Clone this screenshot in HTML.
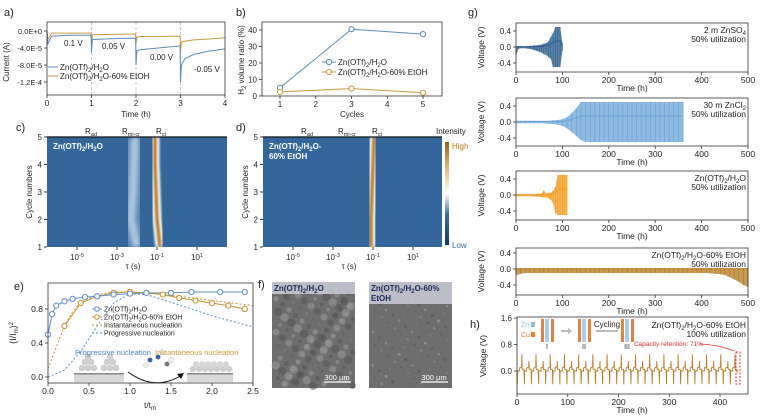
<!DOCTYPE html>
<html><head><meta charset="utf-8"><style>
html,body{margin:0;padding:0;background:#fff}
svg{display:block;font-family:"Liberation Sans",Arial,sans-serif}
</style></head><body>
<svg id="fig" width="766" height="416" viewBox="0 0 766 416" xmlns="http://www.w3.org/2000/svg">
<defs>
<filter id="blur2" x="-50%" y="-10%" width="200%" height="120%"><feGaussianBlur stdDeviation="2.2"/></filter>
<filter id="blur1" x="-50%" y="-10%" width="200%" height="120%"><feGaussianBlur stdDeviation="1"/></filter>
<filter id="blur4" x="-50%" y="-10%" width="200%" height="120%"><feGaussianBlur stdDeviation="4"/></filter>
<linearGradient id="cbar" x1="0" y1="1" x2="0" y2="0"><stop offset="0" stop-color="#123a66"/><stop offset="0.3" stop-color="#3b6fa0"/><stop offset="0.5" stop-color="#ffffff"/><stop offset="0.75" stop-color="#e2b77a"/><stop offset="1" stop-color="#9a5d12"/></linearGradient>
</defs>
<g id="root"></g>
</svg>
<script>
// ---------- data ----------
const aTimes = [0,0.02,0.1,0.5,0.99,1.0,1.02,1.5,1.99,2.0,2.02,2.1,2.5,2.99,3.0,3.02,3.1,3.3,3.6,4.0];
const aBlue = [0,-3,-1.2,-1,-1,-5,-2,-1.8,-1.7,-8,-4.6,-4.4,-4,-3.5,-12,-8,-6.5,-5.5,-4.8,-4.2];
const aOrange = [0,-2,-0.5,-0.5,-0.5,-3,-0.9,-0.8,-0.7,-3,-1.4,-1.3,-1.3,-1.2,-5,-2.6,-2.4,-2.1,-1.9,-1.6];
const aYTicks = ["0.0E+0","-4.0E-5","-8.0E-5","-1.2E-4"];
const aYTickVals = [0,-4,-8,-12];
const bCycles = [1,3,5];
const bBlue = [5,40.5,37.5];
const bOrange = [2.5,4.5,2];
const eBlueT = [0,0.05,0.1,0.2,0.3,0.45,0.6,0.8,1.0,1.2,1.5,1.75,2.1,2.4];
const eBlueV = [0.5,0.74,0.84,0.89,0.92,0.94,0.95,0.97,0.98,0.99,0.99,1.0,1.0,1.0];
const eOrT = [0.2,0.4,0.6,0.8,1.0,1.2,1.4,1.6,1.8,2.0,2.2,2.4];
const eOrV = [0.6,0.87,0.95,0.99,1.0,0.99,0.97,0.93,0.9,0.87,0.84,0.8];
const eInstT = [0,0.1,0.2,0.3,0.4,0.6,0.8,1.0,1.2,1.5,2.0,2.5];
const eInstV = [0.1,0.35,0.6,0.77,0.88,0.97,1.0,1.0,0.99,0.96,0.9,0.84];
const eProgT = [0,0.2,0.4,0.6,0.8,1.0,1.2,1.5,2.0,2.5];
const eProgV = [0,0.08,0.3,0.6,0.87,0.98,0.97,0.88,0.72,0.59];
const cCycles = [1,2,3,4,5];
const cRct = [-0.85,-1.0,-1.05,-1.1,-1.1];
const cRmi = [-2.0,-2.3,-2.2,-2.15,-2.1];
const cRad = [-4.3,-4.3,-4.3,-4.3,-4.3];
const dRct = [-1.1,-1.1,-1.05,-1.0,-0.95];
const dRmi = [-2.2,-2.2,-2.2,-2.2,-2.2];
const dRad = [-4.3,-4.3,-4.3,-4.3,-4.3];
const g1T = [0,5,10,15,20,25,30,35,40,45,50,55,60,65,70,75,80,85,90,95,100];
const g1Up = [0.02,0.02,0.02,0.02,0.02,0.02,0.03,0.03,0.04,0.04,0.05,0.06,0.08,0.1,0.14,0.25,0.35,0.5,0.5,0.5,0.1];
const g1Lo = [-0.22,-0.05,-0.03,-0.03,-0.03,-0.04,-0.05,-0.06,-0.08,-0.1,-0.12,-0.14,-0.18,-0.2,-0.25,-0.3,-0.5,-0.5,-0.5,-0.5,-0.1];
const g2T = [0,10,20,30,40,50,60,70,80,90,100,110,120,130,140,150,160,170,180,190,200,210,220,230,240,250,260,270,280,290,300,310,320,330,340,350,360];
const g2Up = [0.03,0.03,0.03,0.03,0.03,0.03,0.03,0.03,0.04,0.05,0.07,0.12,0.22,0.35,0.5,0.5,0.5,0.5,0.5,0.5,0.5,0.5,0.5,0.5,0.5,0.5,0.5,0.5,0.5,0.5,0.5,0.5,0.5,0.5,0.5,0.5,0.5];
const g2Lo = [-0.03,-0.03,-0.03,-0.03,-0.03,-0.03,-0.03,-0.04,-0.05,-0.07,-0.1,-0.16,-0.25,-0.35,-0.45,-0.5,-0.5,-0.5,-0.5,-0.5,-0.5,-0.5,-0.5,-0.5,-0.5,-0.5,-0.5,-0.5,-0.5,-0.5,-0.5,-0.5,-0.5,-0.5,-0.5,-0.5,-0.5];
const g3T = [0,5,10,15,20,25,30,35,40,45,50,55,60,65,70,75,80,85,90,95,100,105,110];
const g3Up = [0.02,0.02,0.02,0.02,0.02,0.02,0.02,0.02,0.02,0.03,0.03,0.03,0.12,0.03,0.04,0.06,0.1,0.2,0.5,0.5,0.5,0.5,0.5];
const g3Lo = [-0.03,-0.03,-0.03,-0.03,-0.03,-0.03,-0.03,-0.03,-0.04,-0.04,-0.05,-0.05,-0.06,-0.06,-0.08,-0.12,-0.2,-0.45,-0.5,-0.5,-0.5,-0.5,-0.5];
const g4T = [];
const g4Up = [0.02,0.02,0.02,0.02,0.02,0.02,0.02,0.02,0.02,0.02,0.02,0.02,0.02,0.02,0.02,0.02,0.02,0.02,0.02,0.02,0.02,0.02,0.02,0.02,0.02,0.02,0.02,0.02,0.02,0.02,0.02,0.02,0.02,0.02,0.02,0.02,0.02,0.02,0.02,0.02,0.02,0.02,0.02,0.02,0.02,0.02,0.02,0.02,0.02,0.02,0.02];
const g4Lo = [-0.16,-0.12,-0.1,-0.1,-0.1,-0.1,-0.1,-0.1,-0.1,-0.1,-0.1,-0.1,-0.1,-0.1,-0.1,-0.1,-0.1,-0.1,-0.1,-0.1,-0.1,-0.1,-0.1,-0.1,-0.1,-0.1,-0.1,-0.1,-0.1,-0.1,-0.1,-0.1,-0.1,-0.1,-0.1,-0.1,-0.1,-0.1,-0.1,-0.1,-0.1,-0.1,-0.11,-0.12,-0.13,-0.15,-0.2,-0.26,-0.32,-0.4,-0.45];
for (let i = 0; i < g4Up.length; i++) g4T.push(i * 10);
const hStarts = [0,14,28,42,56,70,84,98,112,126,140,154,168,182,196,210,224,238,252,266,280,294,308,322,336,350,364,378,392,406,420];
const hPeaks = [0.5,0.3,0.5,0.3,0.5,0.3,0.5,0.3,0.5,0.3,0.5,0.3,0.5,0.3,0.5,0.3,0.5,0.3,0.5,0.3,0.5,0.3,0.5,0.3,0.5,0.3,0.5,0.3,0.5,0.3,0.5];
const timeTicks = [0,100,200,300,400,500];
const timeTickLabels = ['0','100','200','300','400','500'];

// ---------- helpers ----------
const NS = "http://www.w3.org/2000/svg";
const root = document.getElementById('root');
function mk(tag, attrs, name, parent) {
  const el = document.createElementNS(NS, tag);
  for (const k in attrs) el.setAttribute(k, attrs[k]);
  
  
  (parent || root).appendChild(el);
  return el;
}
function txt(x, y, s, name, o) {
  o = o || {};
  const el = mk('text', {x: x, y: y, 'font-size': o.fs || 8, fill: o.fill || '#222', 'text-anchor': o.anchor || 'start', 'font-weight': o.fw || 'normal'}, name, o.parent);
  if (o.rot) el.setAttribute('transform', 'rotate(-90 ' + x + ' ' + y + ')');
  el.innerHTML = s;
  return el;
}
function box(x0, y0, x1, y1, name) {
  mk('rect', {x: x0, y: y0, width: x1 - x0, height: y1 - y0, fill: 'none', stroke: '#333', 'stroke-width': 0.8}, name);
}
function path(pts, name, o) {
  const d = pts.map((p, i) => (i ? 'L' : 'M') + p[0].toFixed(1) + ',' + p[1].toFixed(1)).join('');
  return mk('path', {d: d, fill: 'none', stroke: o.stroke, 'stroke-width': o.sw || 1, 'stroke-dasharray': o.dash || 'none'}, name);
}
function xticks(vals, labels, sx, yb, name, fs) {
  vals.forEach((v, i) => {
    mk('line', {x1: sx(v), x2: sx(v), y1: yb, y2: yb + 3, stroke: '#333', 'stroke-width': 0.8}, name + '-tick');
    txt(sx(v), yb + 11, labels[i], name + '-label', {anchor: 'middle', fs: fs || 8});
  });
}
function yticks(vals, labels, sy, xl, name, fs) {
  vals.forEach((v, i) => {
    mk('line', {x1: xl - 3, x2: xl, y1: sy(v), y2: sy(v), stroke: '#333', 'stroke-width': 0.8}, name + '-tick');
    txt(xl - 5, sy(v) + 3, labels[i], name + '-label', {anchor: 'end', fs: fs || 8});
  });
}
const BLUE = '#5b8cb8', ORNG = '#c89a40';

// ---------- panel a ----------
txt(4, 16, 'a)', 'panel-a-label', {fs: 11});
const ax = t => 47 + t * 44.5, ay = v => 31 - v * 4.25;
[1, 2, 3].forEach(t => mk('line', {x1: ax(t), x2: ax(t), y1: 22, y2: 95, stroke: '#aaa', 'stroke-dasharray': '3,2', 'stroke-width': 0.7}, 'a-step-divider'));
path(aTimes.map((t, i) => [ax(t), ay(aOrange[i])]), 'a-line-etoh', {stroke: ORNG, sw: 1});
path(aTimes.map((t, i) => [ax(t), ay(aBlue[i])]), 'a-line-h2o', {stroke: BLUE, sw: 1});
box(47, 22, 225, 95, 'a-plot-frame');
xticks([0, 1, 2, 3, 4], ['0', '1', '2', '3', '4'], ax, 95, 'a-x');
yticks(aYTickVals, aYTicks, ay, 47, 'a-y', 7.5);
txt(136, 117, 'Time (h)', 'a-x-title', {anchor: 'middle', fs: 8});
txt(9, 62, 'Current (A)', 'a-y-title', {anchor: 'middle', rot: true, fs: 8});
txt(64, 46, '0.1 V', 'a-step-label', {fs: 8});
txt(102, 49, '0.05 V', 'a-step-label', {fs: 8});
txt(150, 60, '0.00 V', 'a-step-label', {fs: 8});
txt(194, 72, '-0.05 V', 'a-step-label', {fs: 8});
mk('line', {x1: 48, x2: 58, y1: 67, y2: 67, stroke: BLUE}, 'a-legend-swatch-h2o');
txt(60, 70, 'Zn(OTf)<tspan font-size="6" dy="2">2</tspan><tspan dy="-2">/H</tspan><tspan font-size="6" dy="2">2</tspan><tspan dy="-2">O</tspan>', 'a-legend-h2o', {fs: 8});
mk('line', {x1: 48, x2: 58, y1: 76, y2: 76, stroke: ORNG}, 'a-legend-swatch-etoh');
txt(60, 79, 'Zn(OTf)<tspan font-size="6" dy="2">2</tspan><tspan dy="-2">/H</tspan><tspan font-size="6" dy="2">2</tspan><tspan dy="-2">O-60% EtOH</tspan>', 'a-legend-etoh', {fs: 8});

// ---------- panel b ----------
txt(236, 16, 'b)', 'panel-b-label', {fs: 11});
const bx = c => 280 + (c - 1) * 35.75, by = v => 96 - v * 1.65;
path(bCycles.map((c, i) => [bx(c), by(bBlue[i])]), 'b-line-h2o', {stroke: BLUE});
path(bCycles.map((c, i) => [bx(c), by(bOrange[i])]), 'b-line-etoh', {stroke: ORNG});
bCycles.forEach((c, i) => {
  mk('circle', {cx: bx(c), cy: by(bBlue[i]), r: 2.6, fill: '#fff', stroke: BLUE}, 'b-point-h2o');
  mk('circle', {cx: bx(c), cy: by(bOrange[i]), r: 2.6, fill: '#fff', stroke: ORNG}, 'b-point-etoh');
});
box(262, 22, 442, 96, 'b-plot-frame');
xticks([1, 2, 3, 4, 5], ['1', '2', '3', '4', '5'], bx, 96, 'b-x');
yticks([0, 10, 20, 30, 40], ['0', '10', '20', '30', '40'], by, 262, 'b-y');
txt(352, 117, 'Cycles', 'b-x-title', {anchor: 'middle'});
txt(244, 60, 'H<tspan font-size="6" dy="2">2</tspan><tspan dy="-2"> volume ratio (%)</tspan>', 'b-y-title', {anchor: 'middle', rot: true});
mk('line', {x1: 322, x2: 336, y1: 62, y2: 62, stroke: BLUE}, 'b-legend-swatch-h2o');
mk('circle', {cx: 329, cy: 62, r: 2.6, fill: '#fff', stroke: BLUE}, 'b-legend-marker-h2o');
txt(338, 65, 'Zn(OTf)<tspan font-size="6" dy="2">2</tspan><tspan dy="-2">/H</tspan><tspan font-size="6" dy="2">2</tspan><tspan dy="-2">O</tspan>', 'b-legend-h2o');
mk('line', {x1: 322, x2: 336, y1: 72, y2: 72, stroke: ORNG}, 'b-legend-swatch-etoh');
mk('circle', {cx: 329, cy: 72, r: 2.6, fill: '#fff', stroke: ORNG}, 'b-legend-marker-etoh');
txt(338, 75, 'Zn(OTf)<tspan font-size="6" dy="2">2</tspan><tspan dy="-2">/H</tspan><tspan font-size="6" dy="2">2</tspan><tspan dy="-2">O-60% EtOH</tspan>', 'b-legend-etoh');

// ---------- heatmaps c, d ----------
function heat(x0, x1, dec0, title, rct, rmi, rad, label, lx, prefix) {
  const y0 = 137, y1 = 247;
  const sx = l => x0 + (l - dec0) * 20, sy = c => y1 - (c - 1) * 27.5;
  const clip = mk('clipPath', {id: prefix + 'clip'}, prefix + '-clip');
  mk('rect', {x: x0, y: y0, width: x1 - x0, height: y1 - y0}, prefix + '-clip-rect', clip);
  mk('rect', {x: x0, y: y0, width: x1 - x0, height: y1 - y0, fill: '#33669a'}, prefix + '-heatmap-bg');
  const g = mk('g', {'clip-path': 'url(#' + prefix + 'clip)'}, prefix + '-heatmap');
  const line = (arr, col, w, f, op, nm) => {
    const d = cCycles.map((c, i) => (i ? 'L' : 'M') + sx(arr[i]).toFixed(1) + ',' + sy(c).toFixed(1)).join('');
    mk('path', {d: d, fill: 'none', stroke: col, 'stroke-width': w, filter: f, opacity: op}, nm, g);
  };
  line(rad, '#4f80ad', 30, 'url(#blur4)', 0.7, prefix + '-band-rad');
  line(rmi, '#6c97c0', 26, 'url(#blur4)', 0.8, prefix + '-band-rmi-cr-halo');
  line(rmi, '#b6cde3', 8, 'url(#blur2)', 0.9, prefix + '-band-rmi-cr');
  line(rct, '#ffffff', 9, 'url(#blur1)', 1, prefix + '-band-rct');
  line(rct, '#b8771f', 3.5, 'url(#blur1)', 1, prefix + '-band-rct-core');
  mk('line', {x1: x0, x2: x1, y1: y0, y2: y0, stroke: '#111', 'stroke-width': 1.2}, prefix + '-top-edge');
  [-5, -3, -1, 1].forEach(l => {
    mk('line', {x1: sx(l), x2: sx(l), y1: y1, y2: y1 + 3, stroke: '#333'}, prefix + '-x-tick');
    txt(sx(l), y1 + 13, '10<tspan font-size="5.5" dy="-3">' + l + '</tspan>', prefix + '-x-label', {anchor: 'middle'});
  });
  [1, 2, 3, 4, 5].forEach(c => {
    mk('line', {x1: x0 - 3, x2: x0, y1: sy(c), y2: sy(c), stroke: '#333'}, prefix + '-y-tick');
    txt(x0 - 5, sy(c) + 3, String(c), prefix + '-y-label', {anchor: 'end'});
  });
  txt(sx(-2.2), 269, 'τ (s)', prefix + '-x-title', {anchor: 'middle'});
  txt(x0 - 15, 192, 'Cycle numbers', prefix + '-y-title', {anchor: 'middle', rot: true});
  txt(sx(-4.3), 134, 'R<tspan font-size="5.5" dy="2">ad</tspan>', prefix + '-label-rad', {anchor: 'middle'});
  txt(sx(-2.3), 134, 'R<tspan font-size="5.5" dy="2">mi-cr</tspan>', prefix + '-label-rmi-cr', {anchor: 'middle'});
  txt(sx(-0.8), 134, 'R<tspan font-size="5.5" dy="2">ct</tspan>', prefix + '-label-rct', {anchor: 'middle'});
  title.forEach((t, i) => txt(x0 + 6, 149 + i * 10, t, prefix + '-title', {fill: '#fff', fw: 'bold', fs: 8}));
  txt(lx, 131, label, 'panel-' + prefix + '-label', {fs: 11});
}
heat(47, 227, -6.5, ['Zn(OTf)<tspan font-size="6" dy="2">2</tspan><tspan dy="-2">/H</tspan><tspan font-size="6" dy="2">2</tspan><tspan dy="-2">O</tspan>'], cRct, cRmi, cRad, 'c)', 16, 'c');
heat(263, 442, -6.5, ['Zn(OTf)<tspan font-size="6" dy="2">2</tspan><tspan dy="-2">/H</tspan><tspan font-size="6" dy="2">2</tspan><tspan dy="-2">O-</tspan>', '60% EtOH'], dRct, dRmi, dRad, 'd)', 236, 'd');
mk('rect', {x: 445, y: 142, width: 4, height: 103, fill: 'url(#cbar)'}, 'colorbar');
txt(436, 134, 'Intensity', 'colorbar-title');
txt(452, 149, 'High', 'colorbar-high', {fill: '#b87a20'});
txt(452, 248, 'Low', 'colorbar-low', {fill: '#3a6ea5'});

// ---------- panel e ----------
txt(14, 290, 'e)', 'panel-e-label', {fs: 11});
const ex = t => 48 + t * 82, ey = v => 377 - v * 85;
mk('rect', {x: 74, y: 374, width: 50, height: 8, fill: '#d8d8d8'}, 'e-illus-substrate-left');
mk('rect', {x: 74, y: 373, width: 50, height: 1.5, fill: '#888'}, 'e-illus-surface-left');
[[82,368],[88,368],[94,368],[85,362],[91,362],[88,357],[104,368],[110,368],[116,368],[107,362],[113,362],[110,357]].forEach(p => mk('circle', {cx: p[0], cy: p[1], r: 3.3, fill: '#cfcfcf'}, 'e-illus-nucleus'));
mk('rect', {x: 187, y: 374, width: 46, height: 8, fill: '#d8d8d8'}, 'e-illus-substrate-right');
mk('rect', {x: 187, y: 373, width: 46, height: 1.5, fill: '#888'}, 'e-illus-surface-right');
[193,199,205,211,217,223,229].forEach(x => mk('circle', {cx: x, cy: 369, r: 3.2, fill: '#cfcfcf'}, 'e-illus-nucleus'));
[196,202,208,214,220,226].forEach(x => mk('circle', {cx: x, cy: 364, r: 3, fill: '#d6d6d6'}, 'e-illus-nucleus'));
mk('path', {d: 'M128,372 Q155,392 182,375', fill: 'none', stroke: '#111', 'stroke-width': 1}, 'e-illus-arrow');
mk('path', {d: 'M184,373 L177,374 L181,379 Z', fill: '#111'}, 'e-illus-arrowhead');
[[150,360,'#3a5fa0'],[158,357,'#3a5fa0'],[167,364,'#777'],[146,365,'#eee'],[162,352,'#eee'],[171,360,'#eee']].forEach(p => mk('circle', {cx: p[0], cy: p[1], r: 2.4, fill: p[2], stroke: '#999', 'stroke-width': 0.3}, 'e-illus-molecule-atom'));
txt(75, 355, 'Progressive nucleation', 'e-illus-label-progressive', {fill: '#4a86c0', fs: 7.5});
txt(155, 355, 'Instantaneous nucleation', 'e-illus-label-instantaneous', {fill: '#d09a30', fs: 7.5});
path(eInstT.map((t, i) => [ex(t), ey(eInstV[i])]), 'e-line-instantaneous', {stroke: '#c8902a', dash: '2,2'});
path(eProgT.map((t, i) => [ex(t), ey(eProgV[i])]), 'e-line-progressive', {stroke: '#5b8fc6', dash: '2,2'});
path(eOrT.map((t, i) => [ex(t), ey(eOrV[i])]), 'e-line-etoh', {stroke: '#c8902a'});
path(eBlueT.map((t, i) => [ex(t), ey(eBlueV[i])]), 'e-line-h2o', {stroke: '#5b8fc6'});
eOrT.forEach((t, i) => mk('circle', {cx: ex(t), cy: ey(eOrV[i]), r: 2.6, fill: '#fff', stroke: '#c8902a'}, 'e-point-etoh'));
eBlueT.forEach((t, i) => mk('circle', {cx: ex(t), cy: ey(eBlueV[i]), r: 2.6, fill: '#fff', stroke: '#5b8fc6'}, 'e-point-h2o'));
box(48, 283, 253, 383, 'e-plot-frame');
xticks([0, 0.5, 1, 1.5, 2, 2.5], ['0.0', '0.5', '1.0', '1.5', '2.0', '2.5'], ex, 383, 'e-x', 8.5);
yticks([0, 0.4, 0.8], ['0.0', '0.4', '0.8'], ey, 48, 'e-y', 8.5);
txt(150, 408, 't/t<tspan font-size="6" dy="2">m</tspan>', 'e-x-title', {anchor: 'middle'});
txt(16, 333, '(I/I<tspan font-size="6" dy="2">m</tspan><tspan dy="-2">)</tspan><tspan font-size="6" dy="-3">2</tspan>', 'e-y-title', {anchor: 'middle', rot: true, fs: 9});
const leg = [['Zn(OTf)<tspan font-size="5.5" dy="2">2</tspan><tspan dy="-2">/H</tspan><tspan font-size="5.5" dy="2">2</tspan><tspan dy="-2">O</tspan>', '#5b8fc6', 1], ['Zn(OTf)<tspan font-size="5.5" dy="2">2</tspan><tspan dy="-2">/H</tspan><tspan font-size="5.5" dy="2">2</tspan><tspan dy="-2">O-60% EtOH</tspan>', '#c8902a', 1], ['Instantaneous nucleation', '#c8902a', 0], ['Progressive nucleation', '#5b8fc6', 0]];
leg.forEach((l, i) => {
  const y = 309 + i * 8;
  mk('line', {x1: 92, x2: 102, y1: y, y2: y, stroke: l[1], 'stroke-dasharray': l[2] ? 'none' : '2,2'}, 'e-legend-swatch');
  if (l[2]) mk('circle', {cx: 97, cy: y, r: 2.3, fill: '#fff', stroke: l[1]}, 'e-legend-marker');
  txt(104, y + 2.5, l[0], 'e-legend-entry', {fs: 7});
});

// ---------- panel f ----------
txt(258, 288, 'f)', 'panel-f-label', {fs: 11});
function sem(x, name, lines, rough) {
  mk('rect', {x: x, y: 282, width: 83, height: 106, fill: '#6e6e6e'}, name + '-image');
  for (let i = 0; i < 140; i++) {
    const cx = x + 2 + (i * 37.3) % 79, cy = 286 + (i * 53.7) % 100;
    mk('circle', {cx: cx, cy: cy, r: rough ? 1 + (i % 5) * 0.8 : 0.6 + (i % 3) * 0.4, fill: i % 2 ? '#9a9a9a' : '#555', opacity: 0.55}, name + '-texture');
  }
  mk('rect', {x: x, y: 282, width: 83, height: lines.length * 10 + 2, fill: '#c9ccd8', opacity: 0.85}, name + '-label-bg');
  lines.forEach((t, i) => txt(x + 2, 291 + i * 10, t, name + '-label', {fw: 'bold', fill: '#1a2a5a', fs: 8}));
  mk('line', {x1: x + 52, x2: x + 79, y1: 382, y2: 382, stroke: '#fff', 'stroke-width': 1.2}, name + '-scalebar');
  txt(x + 65, 380, '300 μm', name + '-scalebar-label', {fill: '#fff', anchor: 'middle', fs: 7.5});
}
sem(272, 'f-sem-h2o', ['Zn(OTf)<tspan font-size="6" dy="2">2</tspan><tspan dy="-2">/H</tspan><tspan font-size="6" dy="2">2</tspan><tspan dy="-2">O</tspan>'], true);
sem(369, 'f-sem-etoh', ['Zn(OTf)<tspan font-size="6" dy="2">2</tspan><tspan dy="-2">/H</tspan><tspan font-size="6" dy="2">2</tspan><tspan dy="-2">O-60%</tspan>', 'EtOH'], false);

// ---------- panel g ----------
txt(468, 16, 'g)', 'panel-g-label', {fs: 11});
const gx = t => 516 + t * 0.464;
function gpanel(y0, y1, z, T, U, L, col, lines, prefix, withTicks) {
  const sy = v => z - v * 40;
  const poly = T.map((t, i) => gx(t).toFixed(1) + ',' + sy(U[i]).toFixed(1)).concat(T.slice().reverse().map((t, j) => gx(t).toFixed(1) + ',' + sy(L[T.length - 1 - j]).toFixed(1)));
  mk('polygon', {points: poly.join(' '), fill: col, opacity: 0.75}, prefix + '-envelope');
  T.forEach((t, i) => mk('line', {x1: gx(t), x2: gx(t), y1: sy(U[i]), y2: sy(L[i]), stroke: col, 'stroke-width': 0.7}, prefix + '-cycle-bar'));
  path(T.map((t, i) => [gx(t), sy(U[i] * 0.3)]), prefix + '-trace', {stroke: col, sw: 1});
  box(516, y0, 748, y1, prefix + '-plot-frame');
  if (withTicks) {
    xticks(timeTicks, timeTickLabels, gx, y1, prefix + '-x', 8.5);
    txt(632, y1 + 19, 'Time (h)', prefix + '-x-title', {anchor: 'middle', fs: 8.5});
  }
  yticks([0.4, 0, -0.4], ['0.4', '0.0', '-0.4'], sy, 516, prefix + '-y', 8);
  txt(484, (y0 + y1) / 2, 'Voltage (V)', prefix + '-y-title', {anchor: 'middle', rot: true, fs: 8.5});
  lines.forEach((t, i) => txt(746, y0 + 10 + i * 9, t, prefix + '-annotation', {anchor: 'end', fs: 8.5}));
}
gpanel(23, 72, 47, g1T, g1Up, g1Lo, '#2a5d8f', ['2 m ZnSO<tspan font-size="6" dy="2">4</tspan>', '50% utilization'], 'g1', true);
gpanel(98, 146, 122, g2T, g2Up, g2Lo, '#6aa3d8', ['30 m ZnCl<tspan font-size="6" dy="2">2</tspan>', '50% utilization'], 'g2', true);
gpanel(171, 220, 195, g3T, g3Up, g3Lo, '#f29b1d', ['Zn(OTf)<tspan font-size="6" dy="2">2</tspan><tspan dy="-2">/H</tspan><tspan font-size="6" dy="2">2</tspan><tspan dy="-2">O</tspan>', '50% utilization'], 'g3', true);
gpanel(248, 295, 269, g4T, g4Up, g4Lo, '#b5781f', ['Zn(OTf)<tspan font-size="6" dy="2">2</tspan><tspan dy="-2">/H</tspan><tspan font-size="6" dy="2">2</tspan><tspan dy="-2">O-60% EtOH</tspan>', '50% utilization'], 'g4', false);

// ---------- panel h ----------
txt(470, 328, 'h)', 'panel-h-label', {fs: 11});
const hx = t => 517 + t * 0.5075, hy = v => 371 - v * 33.1;
hStarts.forEach((t, i) => {
  const pts = [[t, -0.05], [t + 0.5, -0.4], [t + 1, 0.0], [t + 5, 0.0], [t + 5.5, 0.1], [t + 9, 0.12], [t + 9.5, hPeaks[i]], [t + 10, 0.05], [t + 13.5, 0.05], [t + 14, -0.05]];
  path(pts.map(p => [hx(p[0]), hy(p[1])]), 'h-cycle-trace', {stroke: '#b5781f', sw: 0.9});
});
box(517, 317, 748, 394, 'h-plot-frame');
xticks([0, 100, 200, 300, 400], ['0', '100', '200', '300', '400'], hx, 394, 'h-x', 8.5);
yticks([1.6, 0.8, 0], ['1.6', '0.8', '0.0'], hy, 517, 'h-y', 8);
txt(632, 413, 'Time (h)', 'h-x-title', {anchor: 'middle', fs: 8.5});
txt(486, 356, 'Voltage (V)', 'h-y-title', {anchor: 'middle', rot: true, fs: 8.5});
txt(746, 328, 'Zn(OTf)<tspan font-size="6" dy="2">2</tspan><tspan dy="-2">/H</tspan><tspan font-size="6" dy="2">2</tspan><tspan dy="-2">O-60% EtOH</tspan>', 'h-annotation', {anchor: 'end', fs: 8.5});
txt(746, 337, '100% utilization', 'h-annotation', {anchor: 'end', fs: 8.5});
txt(703, 346, 'Capacity retention: 71%', 'h-retention-label', {anchor: 'end', fill: '#e03030', fs: 6.5});
mk('rect', {x: 736, y: 352, width: 4, height: 32, fill: 'none', stroke: '#e03030', 'stroke-dasharray': '2,1.5'}, 'h-retention-box');
mk('path', {d: 'M700,344 Q720,345 734,351', fill: 'none', stroke: '#e03030', 'stroke-width': 0.8}, 'h-retention-arrow');
txt(521, 327, 'Zn', 'h-inset-zn-label', {fill: '#8fbde8', fs: 7});
mk('rect', {x: 531, y: 322, width: 4, height: 5, fill: '#8fbde8'}, 'h-inset-zn-swatch');
txt(521, 337, 'Cu', 'h-inset-cu-label', {fill: '#e8823a', fs: 7});
mk('rect', {x: 531, y: 332, width: 4, height: 5, fill: '#e8823a'}, 'h-inset-cu-swatch');
[[541,'I'],[578,'II'],[621,'III']].forEach((s, k) => {
  mk('rect', {x: s[0], y: 319, width: 3, height: 23, fill: '#e8823a'}, 'h-inset-cu-electrode');
  mk('rect', {x: s[0] + 4, y: 319, width: 4, height: 23, fill: '#a8cdee'}, 'h-inset-zn-layer');
  mk('rect', {x: s[0] + 10, y: 319, width: 3, height: 23, fill: '#e8823a'}, 'h-inset-cu-electrode');
  txt(s[0] + 6, 349, s[1], 'h-inset-stage-label', {anchor: 'middle', fs: 7, fill: '#333'});
});
mk('path', {d: 'M561,330 L568,330 L568,328 L572,331 L568,334 L568,332 L561,332 Z', fill: '#bbb'}, 'h-inset-arrow');
mk('line', {x1: 596, x2: 618, y1: 331, y2: 331, stroke: '#bbb', 'stroke-width': 2}, 'h-inset-cycling-arrow');
txt(607, 327, 'Cycling', 'h-inset-cycling-label', {anchor: 'middle', fs: 8});

// g4 x axis drawn last so nothing covers it
xticks(timeTicks, timeTickLabels, gx, 295, 'g4-x', 8.5);
txt(632, 314, 'Time (h)', 'g4-x-title', {anchor: 'middle', fs: 8.5});
</script>
</body></html>
